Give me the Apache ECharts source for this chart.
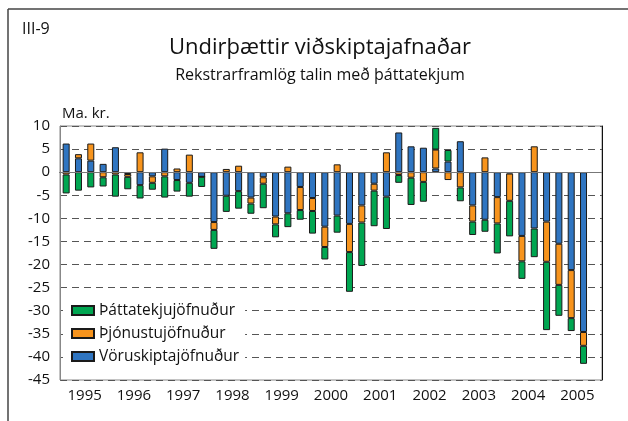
<!DOCTYPE html>
<html>
<head>
<meta charset="utf-8">
<script src="https://cdn.jsdelivr.net/npm/echarts@6/dist/echarts.min.js"></script>
<style>
  html, body { margin: 0; padding: 0; background: #fff; }
  #chart { width: 628px; height: 421px; }
</style>
</head>
<body>
<div id="chart"></div>
<script>
// ár og ársfjórðungar (2005 F4 vantar)
var years = ['1995', '1996', '1997', '1998', '1999', '2000', '2001', '2002', '2003', '2004', '2005'];
var quarters = [];
years.forEach(function (y) {
  for (var q = 1; q <= 4; q++) quarters.push(y + ' F' + q);
});

// Ma. kr.
var voruskipti = [
  6.2, 3.0, 2.5, 1.8,
  5.4, -0.4, -2.8, -0.9,
  5.1, -1.7, -2.3, -1.0,
  -10.8, -5.1, -4.1, -5.5,
  -1.1, -9.6, -8.9, -3.2,
  -5.6, -11.8, -9.4, -11.2,
  -7.2, -2.5, -5.3, 8.6,
  5.6, 5.3, 0.8, 2.3,
  6.7, -7.2, -10.3, -5.4,
  -0.3, -13.8, -12.2, -10.7,
  -15.5, -21.2, -34.6, null
];
var thjonusta = [
  -0.5, 0.9, 3.7, -1.1,
  -0.5, -0.6, 4.3, -1.4,
  -0.9, 0.8, 3.8, 0,
  -1.7, 0.7, 1.4, -1.3,
  -1.4, -1.7, 1.2, -5.0,
  -2.8, -4.4, 1.7, -6.1,
  -3.7, -1.5, 4.3, -0.6,
  -1.2, -2.1, 4.1, -1.7,
  -3.3, -3.5, 3.2, -5.7,
  -5.9, -5.5, 5.6, -8.7,
  -8.9, -10.4, -3.0, null
];
var thattatekjur = [
  -4.1, -4.0, -3.3, -2.0,
  -4.8, -2.7, -2.9, -1.5,
  -4.6, -2.5, -3.0, -2.2,
  -4.1, -3.5, -3.8, -2.2,
  -5.3, -2.8, -3.0, -2.1,
  -4.9, -2.7, -3.7, -8.6,
  -9.4, -7.7, -7.0, -1.7,
  -5.9, -4.3, 4.7, 2.5,
  -3.0, -2.9, -2.6, -6.5,
  -7.7, -3.8, -6.2, -14.8,
  -6.7, -2.8, -3.9, null
];

var font = 'Open Sans';
var myChart = echarts.init(document.getElementById('chart'));

var barStyle = function (color) {
  return { color: color, borderColor: '#1a1a1a', borderWidth: 1 };
};

var option = {
  animation: false,
  textStyle: { fontFamily: font, color: '#111' },
  grid: {
    left: 60, right: 26, top: 126, bottom: 41,
    show: true, borderColor: '#888', borderWidth: 1
  },
  graphic: [
    { type: 'line', shape: { x1: 8, y1: 9, x2: 628, y2: 9 }, style: { stroke: '#444', lineWidth: 1.5 } },
    { type: 'line', shape: { x1: 8, y1: 9, x2: 8, y2: 421 }, style: { stroke: '#444', lineWidth: 1.5 } },
    { type: 'text', left: 22, top: 21, style: { text: 'III-9', fontSize: 16, fontFamily: font, fill: '#111' } },
    { type: 'text', x: 320, y: 48, style: { text: 'Undirþættir viðskiptajafnaðar', fontSize: 22, fontFamily: font, fill: '#111', align: 'center', verticalAlign: 'middle' } },
    { type: 'text', x: 320, y: 75, style: { text: 'Rekstrarframlög talin með þáttatekjum', fontSize: 16, fontFamily: font, fill: '#111', align: 'center', verticalAlign: 'middle' } },
    { type: 'text', left: 62, top: 106, style: { text: 'Ma. kr.', fontSize: 15, fontFamily: font, fill: '#111' } }
  ],
  legend: {
    data: ['Þáttatekjujöfnuður', 'Þjónustujöfnuður', 'Vöruskiptajöfnuður'],
    orient: 'vertical',
    left: 63, top: 298,
    padding: [4, 6, 4, 8],
    itemWidth: 22, itemHeight: 9, itemGap: 6, itemTextGap: 10,
    icon: 'rect',
    backgroundColor: '#fff',
    textStyle: { fontFamily: font, fontSize: 15.5, color: '#111', lineHeight: 17 }
  },
  xAxis: [
    {
      type: 'category',
      data: quarters,
      boundaryGap: true,
      axisLine: { lineStyle: { color: '#111', width: 1 } },
      axisTick: { interval: 3, length: 7, lineStyle: { color: '#111' } },
      axisLabel: { show: false },
      splitLine: { show: false }
    },
    {
      type: 'category',
      data: years,
      position: 'bottom',
      boundaryGap: true,
      axisLine: { show: false },
      axisTick: { show: false },
      axisLabel: { fontSize: 15, color: '#111', margin: 8, fontFamily: font },
      splitLine: { show: false }
    }
  ],
  yAxis: [
    {
      type: 'value',
      min: -45, max: 10, interval: 5,
      axisLine: { show: true, lineStyle: { color: '#888' } },
      axisTick: { show: false },
      axisLabel: { fontSize: 15, color: '#111', margin: 10, fontFamily: font },
      splitLine: { lineStyle: { color: '#555', type: [7, 5], width: 1 } }
    },
    {
      type: 'value',
      position: 'right',
      min: -45, max: 10, interval: 5,
      axisLine: { show: true, lineStyle: { color: '#111' } },
      axisTick: { show: false },
      axisLabel: { show: false },
      splitLine: { show: false }
    }
  ],
  series: [
    {
      name: 'Vöruskiptajöfnuður', type: 'bar', stack: 'alls',
      barWidth: 7, data: voruskipti, itemStyle: barStyle('#2f75c1'),
      markLine: {
        silent: true, symbol: 'none', label: { show: false },
        lineStyle: { color: '#777', type: 'solid', width: 1 },
        data: [{ yAxis: 0 }]
      }
    },
    {
      name: 'Þjónustujöfnuður', type: 'bar', stack: 'alls',
      barWidth: 7, data: thjonusta, itemStyle: barStyle('#f7941d')
    },
    {
      name: 'Þáttatekjujöfnuður', type: 'bar', stack: 'alls',
      barWidth: 7, data: thattatekjur, itemStyle: barStyle('#00a651')
    }
  ]
};

myChart.setOption(option);
</script>
</body>
</html>
